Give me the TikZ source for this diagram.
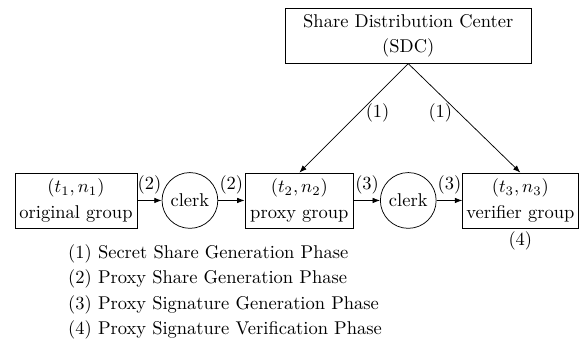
\documentclass[tikz,border=0pt]{standalone}
\usepackage{amsmath}
\usepackage{tikz}
\usetikzlibrary{arrows.meta, positioning}

\begin{document}
\begin{tikzpicture}[
  groupbox/.style={draw, align=center, minimum height=1.045cm, inner sep=2pt},
  clerkcirc/.style={draw, circle, minimum size=1.06cm, inner sep=0pt},
  flow/.style={-{Latex[length=4pt, width=3pt]}}
]
  \useasboundingbox (0,0) rectangle (11.10,6.54);
  \def\yG{2.73}  % centre line of the group row

  % --- Share distribution center (top) ---
  \node[groupbox, minimum width=4.69cm] (sdc) at (7.76,5.86)
    {Share Distribution Center\\[2pt](SDC)};

  % --- Groups and clerks ---
  \node[groupbox, minimum width=2.32cm] (orig) at (1.444,\yG)
    {$(t_1,n_1)$\\[2pt]original group};
  \node[clerkcirc] (clerkA) at (3.61,\yG) {clerk};
  \node[groupbox, minimum width=2.07cm] (proxy) at (5.69,\yG)
    {$(t_2,n_2)$\\[2pt]proxy group};
  \node[clerkcirc] (clerkB) at (7.76,\yG) {clerk};
  \node[groupbox, minimum width=2.19cm] (verif) at (9.89,\yG)
    {$(t_3,n_3)$\\[2pt]verifier group};
  \node[below=-1.5pt of verif] (verifphase) {(4)};

  % Phase (1): shares from the SDC
  \draw[flow] (sdc.south) -- node[pos=0.45, right] {(1)} (proxy.north);
  \draw[flow] (sdc.south) -- node[pos=0.45, left] {(1)} (verif.north);

  % Phases (2) and (3): through the clerks
  \draw[flow] (orig) -- node[above] {(2)} (clerkA);
  \draw[flow] (clerkA) -- node[above] {(2)} (proxy);
  \draw[flow] (proxy) -- node[above] {(3)} (clerkB);
  \draw[flow] (clerkB) -- node[above] {(3)} (verif);

  % Legend
  \foreach \i/\txt in {1/Secret Share Generation Phase,
                       2/Proxy Share Generation Phase,
                       3/Proxy Signature Generation Phase,
                       4/Proxy Signature Verification Phase} {
    \node[anchor=west, inner sep=0pt] (phase\i) at (1.29,{1.72-(\i-1)*0.485})
      {(\i) \txt};
  }
\end{tikzpicture}
\end{document}
